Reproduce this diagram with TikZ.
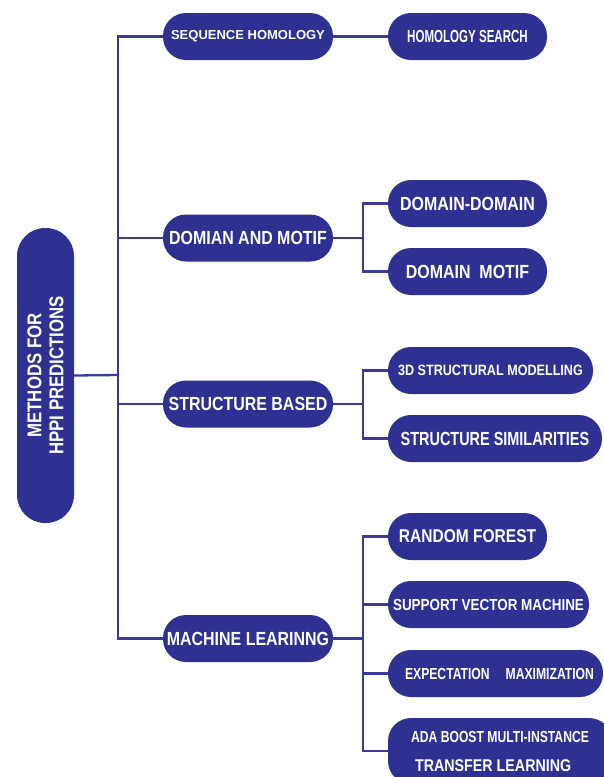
\documentclass[tikz,border=0pt]{standalone}
\usepackage{fontspec}
\setmainfont{Liberation Sans}
\newfontfamily\narrowA{Liberation Sans}[FakeStretch=0.84]
\newfontfamily\narrowB{Liberation Sans}[FakeStretch=0.76]
\newfontfamily\narrowC{Liberation Sans}[FakeStretch=0.66]
\definecolor{hblue}{RGB}{46,49,146}
\definecolor{hline}{RGB}{58,58,152}
\tikzset{
  hbox/.style={rectangle, rounded corners=23pt, fill=hblue, text=white,
    minimum height=47pt, inner sep=0pt,
    font=\narrowA\bfseries\fontsize{19}{21}\selectfont},
  hline/.style={draw=hline, line width=2.3pt},
}

\begin{document}
\begin{tikzpicture}[x=1pt,y=-1pt]
  \useasboundingbox (0,0) rectangle (604,777);
  \clip (0,0) rectangle (604,777);
  % root
  \node[hbox, rotate=90, minimum width=295pt, minimum height=57pt,
        rounded corners=28pt, align=center,
        font=\narrowA\bfseries\fontsize{20}{22}\selectfont] (root) at (45.5,375.5)
        {METHODS FOR\\HPPI PREDICTIONS};
  % first level
  \node[hbox, minimum width=170pt, font=\bfseries\fontsize{13}{15}\selectfont]
        (seq) at (248,36.5) {\raisebox{-1.5pt}{SEQUENCE HOMOLOGY}};
  \node[hbox, minimum width=170pt] (dom) at (248,238) {DOMIAN AND MOTIF};
  \node[hbox, minimum width=170pt] (str) at (248,404) {STRUCTURE BASED};
  \node[hbox, minimum width=170pt] (ml) at (248,638.5) {MACHINE LEARINNG};
  % second level
  \node[hbox, minimum width=159pt, font=\narrowC\bfseries\fontsize{17.5}{20}\selectfont]
        (hs) at (467.5,36.5) {HOMOLOGY SEARCH};
  \node[hbox, minimum width=159pt] (dd) at (467.5,203.5) {DOMAIN-DOMAIN};
  \node[hbox, minimum width=159pt] (dm) at (467.5,271.5) {DOMAIN\ \ MOTIF};
  \node[hbox, minimum width=205pt, font=\narrowA\bfseries\fontsize{15}{17}\selectfont]
        (sm) at (490.5,370.5) {3D STRUCTURAL MODELLING};
  \node[hbox, minimum width=214pt, font=\narrowB\bfseries\fontsize{19}{21}\selectfont]
        (ss) at (495,438.5) {STRUCTURE\ SIMILARITIES};
  \node[hbox, minimum width=159pt, font=\narrowA\bfseries\fontsize{18.5}{21}\selectfont]
        (rf) at (467.5,536.5) {RANDOM FOREST};
  \node[hbox, minimum width=201pt, font=\narrowA\bfseries\fontsize{16}{18}\selectfont]
        (svm) at (488.5,604.5) {SUPPORT VECTOR\ MACHINE};
  \node[hbox, minimum width=215pt, font=\narrowB\bfseries\fontsize{16}{18}\selectfont]
        (em) at (495.5,673.5) {\hspace{8pt}EXPECTATION\quad MAXIMIZATION};
  \node[hbox, minimum width=224pt, minimum height=66pt, align=left,
        font=\narrowB\bfseries\fontsize{16}{29}\selectfont]
        (ab) at (500,751) {ADA BOOST MULTI-INSTANCE\\
        {\narrowA\fontsize{17}{29}\selectfont\ TRANSFER\ LEARNING}};
  % connectors
  \coordinate (trunk) at (118,375);
  \coordinate (b2) at (363,238);
  \coordinate (b3) at (363,404);
  \coordinate (b4) at (363,638.5);
  \draw[hline] (root.south) -- (trunk);
  \draw[hline] (seq.west) -| (trunk) |- (ml.west);
  \draw[hline] (dom.west) -- (dom.west -| trunk);
  \draw[hline] (str.west) -- (str.west -| trunk);
  \draw[hline] (seq.east) -- (hs.west);
  \draw[hline] (dom.east) -- (b2);
  \draw[hline] (dd.west) -| (b2) |- (dm.west);
  \draw[hline] (str.east) -- (b3);
  \draw[hline] (sm.west) -| (b3) |- (ss.west);
  \draw[hline] (ml.east) -- (b4);
  \draw[hline] (rf.west) -| (b4) |- (ab.west);
  \draw[hline] (svm.west) -- (svm.west -| b4);
  \draw[hline] (em.west) -- (em.west -| b4);
\end{tikzpicture}
\end{document}
